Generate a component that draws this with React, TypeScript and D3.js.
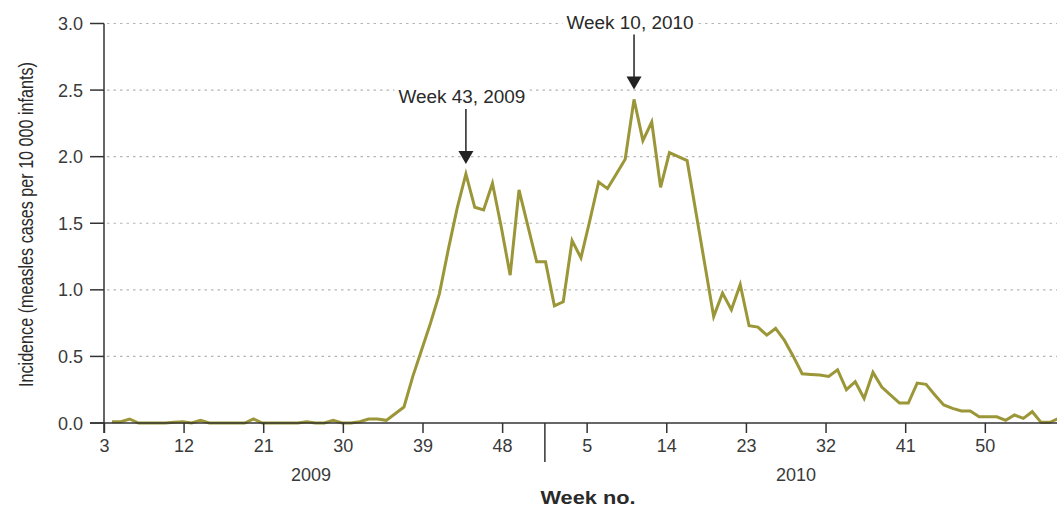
import React from "react";
import * as d3 from "d3";

// ---- data (incidence, measles cases per 10 000 infants) ----
const FIRST_WEEK_2009 = 3;
const WEEKS_IN_2009 = 52;
const WEEKS_IN_2010 = 52;

const incidence2009 = [
  0.01, 0.01, 0.03, 0, 0, 0, 0, 0.005, 0.01, 0, 0.02, 0, 0, 0, 0, 0, 0.03, 0, 0, 0,
  0, 0, 0.01, 0, 0, 0.02, 0, 0, 0.01, 0.03, 0.03, 0.02, 0.07, 0.12, 0.35, 0.55, 0.75,
  0.97, 1.3, 1.61, 1.87, 1.62, 1.6, 1.8, 1.47, 1.11, 1.75, 1.48, 1.21, 1.21,
];
const incidence2010 = [
  0.88, 0.91, 1.37, 1.24, 1.52, 1.81, 1.76, 1.87, 1.98, 2.43, 2.12, 2.26, 1.77, 2.03,
  2.0, 1.97, 1.58, 1.19, 0.8, 0.975, 0.85, 1.04, 0.73, 0.72, 0.66, 0.71, 0.62, 0.5,
  0.37, 0.365, 0.36, 0.35, 0.4, 0.25, 0.31, 0.185, 0.38, 0.27, 0.21, 0.15, 0.15, 0.3,
  0.29, 0.21, 0.135, 0.11, 0.09, 0.09, 0.047, 0.047, 0.047, 0.02,
];
const incidence2011 = [0.06, 0.035, 0.085, 0.005, 0.005, 0.035];

const yTicks = [0, 0.5, 1.0, 1.5, 2.0, 2.5, 3.0];
const xTicks2009 = [3, 12, 21, 30, 39, 48];
const xTicks2010 = [5, 14, 23, 32, 41, 50];

const annotations = [
  { label: "Week 43, 2009", t: 43, text: 127 },
  { label: "Week 10, 2010", t: WEEKS_IN_2009 + 10, text: 127 },
];

// ---- layout ----
const W = 1057;
const H = 508;
const AXIS = "#333333";
const FONT = "'Liberation Sans', Arial, sans-serif";

export default function App() {
  const x = d3.scaleLinear().domain([2.1, 109.8]).range([104, 1057]);
  const y = d3.scaleLinear().domain([0, 3]).range([423, 23.5]);

  const points = [
    ...incidence2009.map((v, i) => ({ t: FIRST_WEEK_2009 + i, v })),
    ...incidence2010.map((v, i) => ({ t: WEEKS_IN_2009 + 1 + i, v })),
    ...incidence2011.map((v, i) => ({ t: WEEKS_IN_2009 + WEEKS_IN_2010 + 1 + i, v })),
  ];
  const line = d3
    .line<{ t: number; v: number }>()
    .x((d) => x(d.t))
    .y((d) => y(d.v));

  const tickPos = [
    ...xTicks2009.map((w) => ({ label: String(w), px: x(w - 0.85) })),
    ...xTicks2010.map((w) => ({ label: String(w), px: x(WEEKS_IN_2009 + w - 0.3) })),
  ];
  const sepX = (x(48 - 0.85) + x(WEEKS_IN_2009 + 5 - 0.3)) / 2;
  const x0 = 104;
  const yBase = y(0);

  const byT = new Map(points.map((p) => [p.t, p.v]));

  return (
    <svg
      width={W}
      height={H}
      style={{ position: "absolute", left: 0, top: 0, background: "#fff" }}
      fontFamily={FONT}
    >
      {/* gridlines */}
      {yTicks
        .filter((v) => v > 0)
        .map((v) => (
          <line
            key={"g" + v}
            x1={x0 + 3}
            x2={W}
            y1={y(v)}
            y2={y(v)}
            stroke="#b5b5b5"
            strokeWidth={1.2}
            strokeDasharray="2.5 4"
          />
        ))}

      {/* data line */}
      <path
        d={line(points) || ""}
        fill="none"
        stroke="#9b9637"
        strokeWidth={3}
        strokeLinejoin="miter"
      />

      {/* y axis */}
      <line x1={x0} x2={x0} y1={y(3)} y2={yBase + 10} stroke={AXIS} strokeWidth={1.5} />
      {yTicks.map((v) => (
        <g key={"yt" + v}>
          <line x1={x0 - 14} x2={x0} y1={y(v)} y2={y(v)} stroke={AXIS} strokeWidth={1.5} />
          <text x={83} y={y(v) + 6.5} textAnchor="end" fontSize={18} fill="#3a3a3a">
            {v.toFixed(1)}
          </text>
        </g>
      ))}

      {/* x axis */}
      <line x1={x0 - 14} x2={W} y1={yBase} y2={yBase} stroke={AXIS} strokeWidth={1.5} />
      {tickPos.map((tk) => (
        <g key={"xt" + tk.label + tk.px}>
          <line x1={tk.px} x2={tk.px} y1={yBase} y2={yBase + 10} stroke={AXIS} strokeWidth={1.5} />
          <text x={tk.px} y={452} textAnchor="middle" fontSize={18} fill="#3a3a3a">
            {tk.label}
          </text>
        </g>
      ))}
      <line x1={sepX} x2={sepX} y1={yBase} y2={462} stroke={AXIS} strokeWidth={1.5} />
      <text x={x(25.5)} y={481} textAnchor="middle" fontSize={18} fill="#3a3a3a">
        2009
      </text>
      <text x={x(WEEKS_IN_2009 + 28.3)} y={481} textAnchor="middle" fontSize={18} fill="#3a3a3a">
        2010
      </text>
      <text
        x={588}
        y={504}
        textAnchor="middle"
        fontSize={19}
        fontWeight="bold"
        fill="#2a2a2a"
        textLength={95}
        lengthAdjust="spacingAndGlyphs"
      >
        Week no.
      </text>

      {/* y title */}
      <text
        transform={`translate(33,224.5) rotate(-90)`}
        textAnchor="middle"
        fontSize={20}
        fill="#2a2a2a"
        textLength={325}
        lengthAdjust="spacingAndGlyphs"
      >
        Incidence (measles cases per 10 000 infants)
      </text>

      {/* annotations */}
      {annotations.map((a) => {
        const px = x(a.t);
        const tip = y(byT.get(a.t) || 0) - 10;
        const cy = tip - 67;
        const tx = px - 4;
        return (
          <g key={a.label}>
            <rect x={tx - a.text / 2 - 4} y={cy - 10} width={a.text + 8} height={20} fill="#fff" />
            <text
              x={tx}
              y={cy + 6.5}
              textAnchor="middle"
              fontSize={18}
              fill="#2a2a2a"
              textLength={a.text}
              lengthAdjust="spacingAndGlyphs"
            >
              {a.label}
            </text>
            <line x1={px} x2={px} y1={tip - 55} y2={tip - 12} stroke="#222" strokeWidth={1.5} />
            <path d={`M${px - 7.5},${tip - 13} L${px + 7.5},${tip - 13} L${px},${tip} Z`} fill="#222" />
          </g>
        );
      })}
    </svg>
  );
}
